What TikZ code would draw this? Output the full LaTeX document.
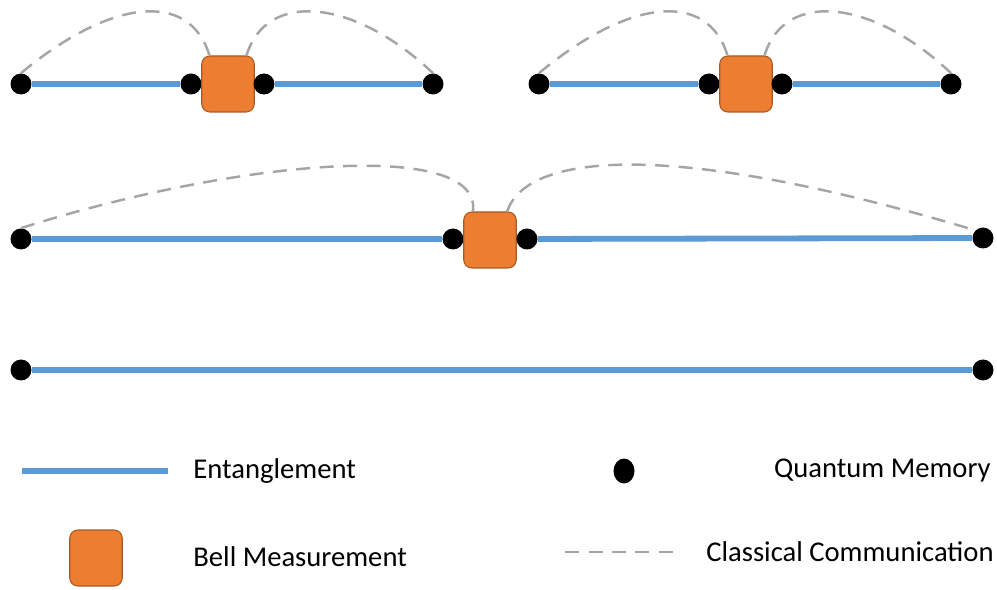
\documentclass[tikz,border=0pt]{standalone}
\usepackage{fontspec}
\setmainfont{Carlito}
\usetikzlibrary{shapes.geometric, positioning, backgrounds}
\definecolor{entblue}{HTML}{5B9BD5}
\definecolor{bellorange}{HTML}{ED7D31}
\definecolor{bellborder}{HTML}{A65A24}
\definecolor{classgray}{HTML}{A5A5A5}

\begin{document}
\begin{tikzpicture}[
    x=0.02cm, y=-0.02cm,
    memory/.style={circle, fill=black, inner sep=0pt, minimum size=0.42cm},
    bell/.style={rectangle, rounded corners=0.16cm, draw=bellborder, line width=0.6pt, fill=bellorange, minimum width=1.05cm, minimum height=1.12cm},
    entangle/.style={entblue, line width=3.3pt},
    classical/.style={classgray, line width=1.4pt, dash pattern=on 0.28cm off 0.19cm},
    label/.style={font=\fontsize{16.3}{19}\selectfont, inner sep=0pt}
]
\useasboundingbox (0,0) rectangle (997,590);

% Row 1, left swap
\node[memory] (a1) at (21,84) {};
\node[memory] (a2) at (191,84) {};
\node[bell]   (ba) at (228,84) {};
\node[memory] (a3) at (264,84) {};
\node[memory] (a4) at (433,84) {};

% Row 1, right swap
\node[memory] (c1) at (539,84) {};
\node[memory] (c2) at (709,84) {};
\node[bell]   (bc) at (746,84) {};
\node[memory] (c3) at (782,84) {};
\node[memory] (c4) at (951,84) {};

% Row 2
\node[memory] (d1) at (21,239) {};
\node[memory] (d2) at (453,239) {};
\node[bell]   (bd) at (490,240) {};
\node[memory] (d3) at (527,239) {};
\node[memory] (d4) at (983,238) {};

% Row 3
\node[memory] (e1) at (21,370) {};
\node[memory] (e2) at (983,370) {};

% Legend
\coordinate (lg1) at (22,471);
\coordinate (lg2) at (168,471);
\node[label, anchor=west] (lgent) at (193,471) {Entanglement};
\node[ellipse, fill=black, inner sep=0pt, minimum width=0.42cm, minimum height=0.5cm] (lgmem) at (624,471) {};
\node[label, anchor=east] (lgmemtxt) at (991,471) {Quantum Memory};
\node[bell] (lgbell) at (96,558) {};
\node[label, anchor=west] (lgbelltxt) at (193,557) {Bell Measurement};
\coordinate (lg3) at (565,552);
\coordinate (lg4) at (681,552);
\node[label, anchor=east] (lgclass) at (994,552) {Classical Communication};

% Entanglement links
\begin{scope}[on background layer]
\draw[entangle] (a1) -- (a2);
\draw[entangle] (a3) -- (a4);
\draw[entangle] (c1) -- (c2);
\draw[entangle] (c3) -- (c4);
\draw[entangle] (d1) -- (d2);
\draw[entangle] (d3) -- (d4);
\draw[entangle] (e1) -- (e2);
\draw[entangle] (lg1) -- (lg2);
\end{scope}

% Classical signals
\draw[classical] (a1.north) .. controls +(89,-74) and +(-20,-66) .. (ba.123);
\draw[classical] (ba.57) .. controls +(20,-66) and +(-78,-74) .. (a4.north);
\draw[classical] (c1.north) .. controls +(89,-74) and +(-20,-66) .. (bc.123);
\draw[classical] (bc.57) .. controls +(20,-66) and +(-78,-74) .. (c4.north);
\draw[classical] (d1.north) .. controls +(220,-70) and +(10,-72) .. (bd.121);
\draw[classical] (bd.59) .. controls +(20,-60) and +(-300,-90) .. (d4.north west);
\draw[classical] (lg3) -- (lg4);

\end{tikzpicture}
\end{document}
